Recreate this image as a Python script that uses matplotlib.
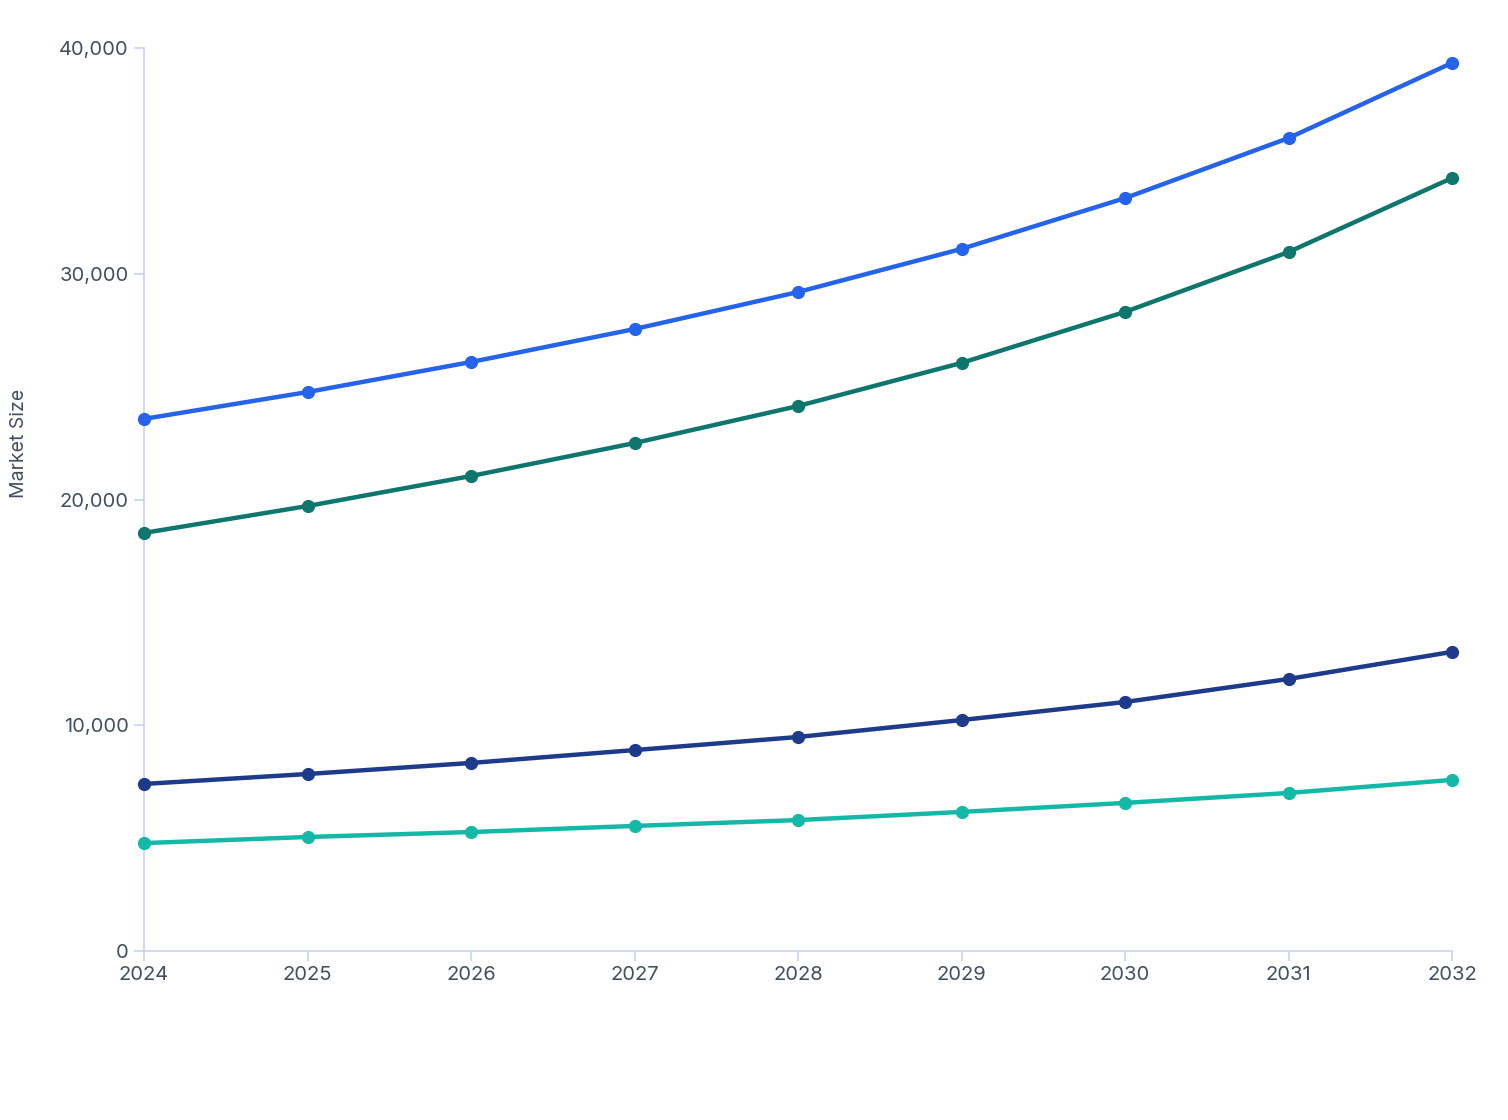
import matplotlib
matplotlib.use("Agg")
import matplotlib.pyplot as plt

years = [2024, 2025, 2026, 2027, 2028, 2029, 2030, 2031, 2032]

series_blue = [23570, 24760, 26090, 27550, 29190, 31100, 33350, 36010, 39340]
series_green = [18520, 19710, 21040, 22500, 24140, 26050, 28310, 30960, 34240]
series_navy = [7400, 7840, 8330, 8900, 9480, 10230, 11030, 12050, 13250]
series_teal = [4780, 5050, 5270, 5540, 5800, 6160, 6560, 7000, 7580]

colors = ["#2563eb", "#0f766e", "#1e3a8a", "#14b8a6"]
yticks = [0, 10000, 20000, 30000, 40000]

plt.rcParams['font.family'] = ['Inter', 'DejaVu Sans']
text_color = "#434e60"
axis_color = "#c7d2f5"

fig = plt.figure(figsize=(15.08, 11.2), dpi=100)
ax = fig.add_axes([144 / 1508, 169 / 1120, 1308 / 1508, 903 / 1120])

for vals, c in zip([series_blue, series_green, series_navy, series_teal], colors):
    ax.plot(years, vals, color=c, lw=3.2, marker='o', markersize=8.5,
            solid_capstyle='round', clip_on=False, zorder=3)

ax.set_xlim(2024, 2032)
ax.set_ylim(0, 40000)
ax.set_xticks(years)
ax.set_yticks(yticks)
ax.set_yticklabels([f"{v:,}" for v in yticks])

for side in ['top', 'right']:
    ax.spines[side].set_visible(False)
for side in ['left', 'bottom']:
    ax.spines[side].set_color(axis_color)
    ax.spines[side].set_linewidth(1.2)

ax.tick_params(axis='both', colors=axis_color, length=7, width=1.2,
               labelcolor=text_color, labelsize=14.5)
ax.tick_params(axis='y', pad=4)
ax.tick_params(axis='x', pad=4)

ax.set_ylabel("Market Size", color=text_color, fontsize=14)
ax.yaxis.set_label_coords(-116 / 1308, (951 - 443) / 903)

fig.savefig("out.png", dpi=100, facecolor="white")
